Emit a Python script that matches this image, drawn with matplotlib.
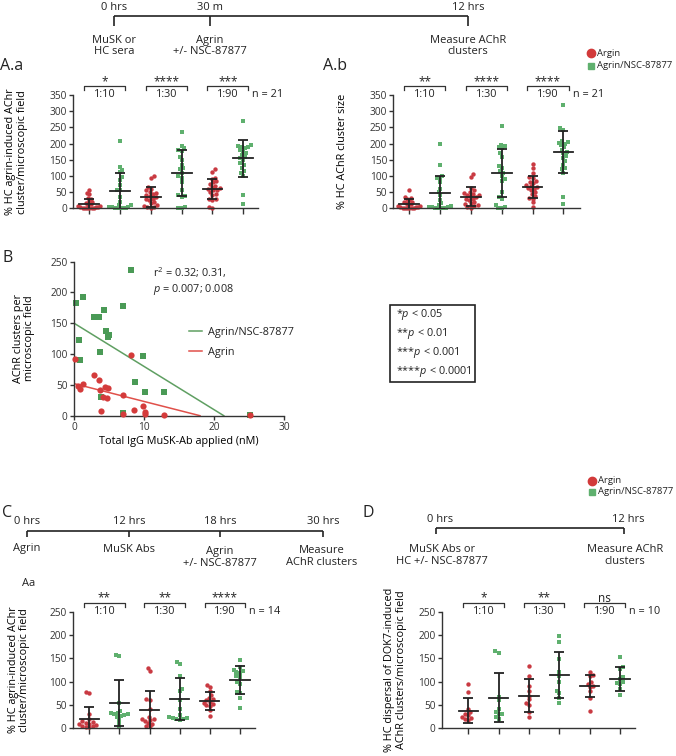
import matplotlib
matplotlib.use('Agg')
import matplotlib.pyplot as plt
import numpy as np
from matplotlib.lines import Line2D
from matplotlib.patches import Rectangle

W, H = 676, 756

plt.rcParams.update({
    'font.family': 'Open Sans',
    'font.size': 7.5,
    'text.color': '#222222',
    'axes.edgecolor': '#333333',
    'axes.linewidth': 1.0,
    'xtick.color': '#333333',
    'ytick.color': '#333333',
    'mathtext.fontset': 'custom',
    'mathtext.rm': 'Open Sans',
    'mathtext.it': 'Open Sans:italic',
})

RED = '#c93a42'
GREEN = '#5fb06e'

# ---- data ----
dilutions = ['1:10', '1:30', '1:90']

# A.a  % HC agrin-induced AChR cluster/microscopic field (red, green alternating)
aa_values = [
    [57, 47, 45, 32, 28, 22, 18, 15, 12, 10, 8, 6, 5, 4, 3, 2, 1, 0, 0, 0, 0],
    [208, 129, 118, 112, 96, 88, 72, 57, 55, 36, 20, 10, 9, 5, 4, 3, 2, 1, 0, 0, 0],
    [100, 93, 65, 60, 55, 50, 47, 45, 40, 38, 35, 30, 28, 25, 20, 15, 10, 8, 5, 3, 0],
    [235, 193, 185, 180, 178, 160, 150, 135, 125, 120, 110, 100, 95, 80, 55, 40, 38, 35, 5, 2, 0],
    [120, 113, 95, 90, 85, 80, 75, 70, 65, 62, 60, 58, 55, 50, 45, 42, 30, 28, 25, 5, 0],
    [270, 195, 192, 190, 188, 185, 180, 175, 170, 165, 160, 155, 150, 140, 135, 125, 115, 108, 100, 40, 12],
]
aa_mean = [13, 52, 34, 108, 60, 154]
aa_sd = [17, 56, 31, 71, 31, 56]
aa_stars = ['*', '****', '***']

# A.b  % HC AChR cluster size
ab_values = [
    [55, 35, 32, 28, 25, 20, 18, 15, 12, 10, 8, 7, 5, 4, 3, 2, 1, 0, 0, 0, 0],
    [200, 133, 100, 95, 92, 80, 60, 50, 40, 25, 15, 10, 8, 5, 4, 3, 2, 1, 0, 0, 0],
    [105, 97, 62, 55, 50, 48, 45, 42, 40, 38, 35, 30, 28, 25, 20, 15, 12, 10, 8, 5, 2],
    [255, 197, 192, 190, 185, 170, 160, 130, 125, 115, 110, 100, 90, 85, 50, 35, 30, 10, 5, 2, 0],
    [137, 125, 110, 98, 95, 85, 82, 78, 72, 68, 65, 62, 60, 55, 50, 45, 38, 32, 30, 18, 5],
    [318, 248, 242, 208, 205, 202, 200, 195, 188, 180, 175, 170, 162, 155, 145, 135, 125, 120, 110, 36, 12],
]
ab_mean = [12, 48, 36, 110, 65, 174]
ab_sd = [17, 51, 30, 74, 34, 65]
ab_stars = ['**', '****', '****']

# B  AChR clusters per microscopic field vs total IgG MuSK-Ab (nM)
b_green_x = [0.3, 1.3, 0.7, 0.8, 2.9, 3.2, 3.6, 4.3, 7.0, 4.5, 4.8, 5.0, 3.7, 8.1, 9.8, 8.7, 10.2, 12.9, 3.9, 7.0, 25.2]
b_green_y = [183, 193, 122, 90, 160, 160, 160, 171, 178, 137, 127, 131, 103, 236, 97, 55, 38, 39, 30, 5, 1]
b_red_x = [0.2, 0.6, 0.8, 1.3, 2.8, 3.5, 3.7, 4.4, 4.9, 4.2, 4.7, 7.0, 8.1, 3.9, 7.0, 8.6, 9.8, 10.2, 10.2, 12.9, 25.2]
b_red_y = [92, 48, 44, 51, 66, 58, 41, 47, 45, 30, 28, 33, 99, 7, 3, 10, 16, 6, 2, 1, 1]
b_green_fit = (150, 21.4)   # (y-intercept, x-intercept)
b_red_fit = (52, 18.0)

# C  % HC agrin-induced AChR cluster/microscopic field
c_values = [
    [77, 76, 30, 20, 15, 13, 12, 10, 10, 8, 5, 4, 3, 2],
    [157, 156, 55, 38, 33, 32, 30, 30, 28, 27, 25, 20, 12, 3],
    [130, 123, 62, 61, 42, 25, 20, 20, 18, 15, 12, 10, 5, 5],
    [143, 137, 112, 85, 80, 60, 42, 28, 25, 22, 22, 20, 20, 18],
    [93, 88, 80, 72, 65, 62, 60, 57, 55, 52, 50, 48, 40, 27],
    [147, 132, 125, 122, 120, 118, 112, 110, 100, 95, 78, 75, 65, 43],
]
c_mean = [21, 54, 39, 62, 59, 104]
c_sd = [24, 49, 41, 45, 19, 30]
c_stars = ['**', '**', '****']

# D  % HC dispersal of DOK7-induced AChR clusters/microscopic field
d_values = [
    [95, 77, 42, 35, 30, 28, 25, 22, 20, 18],
    [165, 162, 68, 60, 42, 35, 30, 30, 25, 20],
    [133, 112, 90, 80, 70, 62, 55, 50, 35, 25],
    [197, 185, 148, 120, 112, 100, 80, 75, 65, 55],
    [120, 115, 112, 100, 95, 90, 88, 80, 65, 38],
    [153, 132, 128, 110, 105, 100, 98, 95, 85, 72],
]
d_mean = [38, 66, 70, 115, 91, 106]
d_sd = [27, 53, 35, 49, 24, 26]
d_stars = ['*', '**', 'ns']

fig = plt.figure(figsize=(W / 100, H / 100), dpi=100)
fig.patch.set_facecolor('white')


def rect(x0, y0, x1, y1):
    return [x0 / W, 1 - y1 / H, (x1 - x0) / W, (y1 - y0) / H]


def ftext(x, y, s, **kw):
    kw.setdefault('ha', 'center')
    kw.setdefault('va', 'center')
    fig.text(x / W, 1 - y / H, s, **kw)


def fline(xs, ys, **kw):
    kw.setdefault('color', '#222222')
    kw.setdefault('lw', 1.2)
    fig.add_artist(Line2D([x / W for x in xs], [1 - y / H for y in ys],
                          transform=fig.transFigure, solid_capstyle='butt', **kw))


def swarm(vals, xs, ys, d, limit=0.36):
    # simple beeswarm in pixel space, squeezed to +-limit category units
    vals = np.asarray(vals, float)
    order = np.argsort(vals)
    placed = []
    offs = np.zeros(len(vals))
    for n, idx in enumerate(order):
        y = vals[idx] * ys
        cands = [0.0]
        for px, py in placed:
            dy = abs(py - y)
            if dy < d:
                dx = np.sqrt(d * d - dy * dy)
                cands += [px - dx, px + dx]
        sign = 1 if n % 2 else -1
        cands.sort(key=lambda c: (round(abs(c), 6), sign * c))
        best = cands[-1]
        for c in cands:
            if all((c - px) ** 2 + (y - py) ** 2 >= d * d - 1e-6 for px, py in placed):
                best = c
                break
        placed.append((best, y))
        offs[idx] = best / xs
    m = np.abs(offs).max()
    if m > limit:
        offs *= limit / m
    return offs


def dot_panel(box, xlim, ymax, values, means, sds, stars, nlabel, ylabel, label_x):
    r = rect(*box)
    ax = fig.add_axes(r)
    ax.set_xlim(*xlim)
    ax.set_ylim(0, ymax)
    wpx = r[2] * W
    hpx = r[3] * H
    xs = wpx / (xlim[1] - xlim[0])
    ys = hpx / ymax
    for i, vals in enumerate(values):
        col = RED if i % 2 == 0 else GREEN
        mk = 'o' if i % 2 == 0 else 's'
        off = swarm(vals, xs, ys, 3.6)
        ax.scatter(i + off, vals, s=10, marker=mk, color=col, linewidths=0,
                   clip_on=False, zorder=2)
        ax.plot([i - 0.32, i + 0.32], [means[i], means[i]], color='#222222', lw=1.3, zorder=3)
        ax.errorbar(i, means[i], yerr=sds[i], fmt='none', ecolor='#222222',
                    elinewidth=1.3, capsize=3.6, capthick=1.3, zorder=3)
    for s in ['top', 'right']:
        ax.spines[s].set_visible(False)
    ax.set_xticks(range(6))
    ax.set_xticklabels([])
    ax.tick_params(axis='x', length=4, width=1)
    ax.set_yticks(np.arange(0, ymax + 1, 50))
    ax.tick_params(axis='y', length=3, width=1, labelsize=7.3, pad=1.5)
    tr = ax.get_xaxis_transform()
    fr = lambda px: 1 + px / hpx
    for k in range(3):
        c = 2 * k + 0.5
        x0, x1 = c - 0.67, c + 0.67
        ax.plot([x0, x0, x1, x1], [fr(4.5), fr(8.5), fr(8.5), fr(4.5)], transform=tr,
                clip_on=False, color='#333333', lw=0.9)
        ax.text(c, fr(10), stars[k], transform=tr, ha='center', va='baseline', fontsize=8.5)
        ax.text(c, fr(0.5), dilutions[k], transform=tr, ha='center', va='center', fontsize=7.8)
    ax.text(5.3, fr(0.5), nlabel, transform=tr, ha='left', va='center', fontsize=7.8)
    ax.set_ylabel(ylabel, fontsize=7.8, linespacing=1.05)
    ax.yaxis.set_label_coords(label_x, 0.5)
    return ax


def key(x, y1, y2):
    # small marker legend placed in figure pixels
    fig.add_artist(Line2D([x / W], [1 - y1 / H], marker='o', ms=6, color='#d23a3a',
                          lw=0, transform=fig.transFigure))
    fig.add_artist(Line2D([x / W], [1 - y2 / H], marker='s', ms=4.5, color=GREEN,
                          lw=0, transform=fig.transFigure))
    ftext(x + 6, y1, 'Argin', fontsize=6.8, ha='left')
    ftext(x + 6, y2, 'Agrin/NSC-87877', fontsize=6.8, ha='left')


# ---- panel A timeline ----
fline([114, 468], [15.7, 15.7])
for x in [114, 210, 468]:
    fline([x, x], [15.7, 26])
ftext(114, 7, '0 hrs', fontsize=8)
ftext(210, 7, '30 m', fontsize=8)
ftext(468, 7, '12 hrs', fontsize=8)
ftext(114, 46, 'MuSK or\nHC sera', fontsize=8, linespacing=1.1)
ftext(210, 46, 'Agrin\n+/- NSC-87877', fontsize=8, linespacing=1.1)
ftext(468, 46, 'Measure AChR\nclusters', fontsize=8, linespacing=1.1)

ftext(0, 66, 'A.a', fontsize=11.5, ha='left')
ftext(323, 66, 'A.b', fontsize=11.5, ha='left')

key(591, 53, 66)

dot_panel((73, 95, 258, 208.3), (-0.53, 5.48), 350, aa_values, aa_mean, aa_sd, aa_stars,
          'n = 21', '% HC agrin-induced AChr\ncluster/microscopic field', -0.245)
dot_panel((393.3, 95, 580, 208.3), (-0.52, 5.54), 350, ab_values, ab_mean, ab_sd, ab_stars,
          'n = 21', '% HC AChR cluster size', -0.243)

# ---- panel B ----
ftext(2, 258, 'B', fontsize=11.5, ha='left')
axb = fig.add_axes(rect(74, 261.5, 284, 415.7))
axb.scatter(b_green_x, b_green_y, marker='s', s=18, color='#4a9a56', linewidths=0,
            clip_on=False, zorder=2)
axb.scatter(b_red_x, b_red_y, marker='o', s=20, color='#d43b3b', linewidths=0,
            clip_on=False, zorder=3)
gl, = axb.plot([0, b_green_fit[1]], [b_green_fit[0], 0], color='#5f9f62', lw=1.1, zorder=1)
rl, = axb.plot([0, b_red_fit[1]], [b_red_fit[0], 0], color='#e0504a', lw=1.1, zorder=1)
axb.set_xlim(0, 30)
axb.set_ylim(0, 250)
axb.set_xticks([0, 10, 20, 30])
axb.set_yticks(np.arange(0, 251, 50))
for s in ['top', 'right']:
    axb.spines[s].set_visible(False)
axb.tick_params(length=3, width=1, labelsize=7.3, pad=1.5)
axb.set_xlabel('Total IgG MuSK-Ab applied (nM)', fontsize=7.8, labelpad=2)
axb.set_ylabel('AChR clusters per\nmicroscopic field', fontsize=7.8, linespacing=1.05)
axb.yaxis.set_label_coords(-0.186, 0.5)
axb.legend([gl, rl], ['Agrin/NSC-87877', 'Agrin'], loc='center left',
           bbox_to_anchor=(0.5, 0.475), frameon=False, handlelength=1.2,
           handletextpad=0.6, labelspacing=0.8, fontsize=7.8)
axb.text(0.375, 0.975, 'r$^2$ = 0.32; 0.31,\n$p$ = 0.007; 0.008', transform=axb.transAxes,
         ha='left', va='top', fontsize=7.8, linespacing=1.15)

# significance key
fig.add_artist(Rectangle((390 / W, 1 - 382 / H), 85 / W, 77 / H, fill=False,
                         ec='#222222', lw=1.2, transform=fig.transFigure))
for i, s in enumerate(['*$p$ < 0.05', '**$p$ < 0.01', '***$p$ < 0.001', '****$p$ < 0.0001']):
    ftext(396, 314.5 + 19 * i, s, fontsize=7.8, ha='left')

# ---- panel C timeline ----
ftext(2, 513, 'C', fontsize=11.5, ha='left')
fline([26.7, 323.3], [530.7, 530.7])
for x, lab in zip([26.7, 129.3, 220, 323.3], ['0 hrs', '12 hrs', '18 hrs', '30 hrs']):
    fline([x, x], [530.7, 537])
    ftext(x, 521.5, lab, fontsize=8)
ftext(27, 549, 'Agrin', fontsize=8)
ftext(129.3, 549, 'MuSK Abs', fontsize=8)
ftext(220, 557.5, 'Agrin\n+/- NSC-87877', fontsize=8, linespacing=1.1)
ftext(322, 556.5, 'Measure\nAChR clusters', fontsize=8, linespacing=1.1)
ftext(29, 583, 'Aa', fontsize=8)

dot_panel((72.7, 611.7, 255, 728.3), (-0.55, 5.5), 250, c_values, c_mean, c_sd, c_stars,
          'n = 14', '% HC agrin-induced AChr\ncluster/microscopic field', -0.234)

# ---- panel D ----
key(591.7, 480.7, 491.7)

ftext(368, 513, 'D', fontsize=11.5)
fline([436, 624], [528, 528])
for x, lab in zip([436, 624], ['0 hrs', '12 hrs']):
    fline([x, x], [528, 534])
    ftext(x + 4, 519, lab, fontsize=8)
ftext(441.7, 555.5, 'MuSK Abs or\nHC +/- NSC-87877', fontsize=8, linespacing=1.1)
ftext(625, 555.5, 'Measure AChR\nclusters', fontsize=8, linespacing=1.1)

dot_panel((441.7, 611.7, 635, 728.3), (-0.88, 5.5), 250, d_values, d_mean, d_sd, d_stars,
          'n = 10', '% HC dispersal of DOK7-induced\nAChR clusters/microscopic field', -0.181)

fig.savefig('out.png', dpi=100)
